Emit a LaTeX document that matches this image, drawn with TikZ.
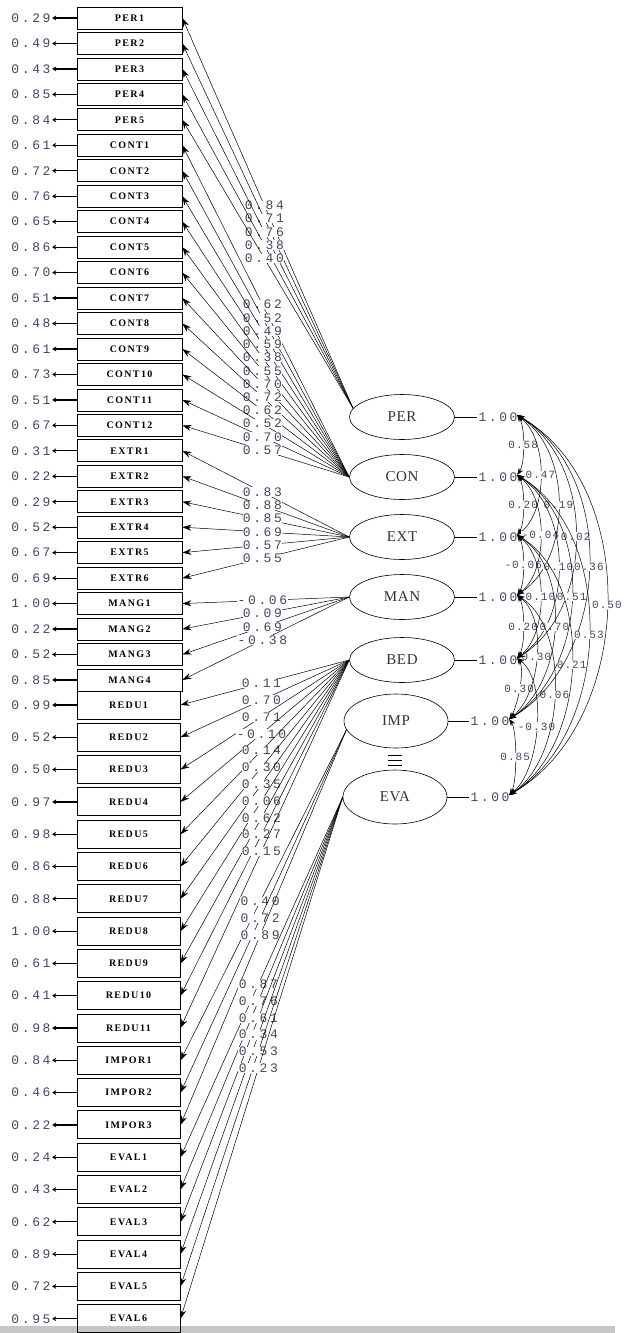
\documentclass[tikz,border=0pt]{standalone}
\usepackage{fontspec}
\usetikzlibrary{shapes.geometric,arrows.meta,calc}
\newfontfamily\numff[LetterSpace=20]{Liberation Mono}
\newfontfamily\corff[LetterSpace=10]{Liberation Mono}
\newfontfamily\boxff[LetterSpace=14]{Liberation Serif}
\newfontfamily\latff[LetterSpace=4]{Liberation Serif}
\newcommand\myNum{\numff\fontsize{13}{13}\selectfont}
\newcommand\myCor{\corff\fontsize{11}{11}\selectfont}
\newcommand\myBox{\boxff\bfseries\fontsize{10}{10}\selectfont}
\newcommand\myLat{\latff\fontsize{15}{15}\selectfont}
\definecolor{numc}{RGB}{75,65,100}
\begin{document}
\begin{tikzpicture}[x=1pt,y=-1pt,
  obs/.style={draw, line width=0.7pt, minimum width=105pt, minimum height=22pt, inner sep=0pt, font=\myBox},
  obsb/.style={draw, line width=1pt, minimum width=103pt, minimum height=28pt, inner sep=0pt, font=\myBox},
  lat/.style={draw, ellipse, line width=0.6pt, minimum width=105pt, minimum height=45pt, inner sep=0pt, font=\myLat, text=black!80},
  latb/.style={lat, minimum width=104pt, minimum height=54pt},
  num/.style={font=\myNum, text=numc, inner sep=1.5pt},
  lab/.style={font=\myNum, text=numc, fill=white, inner sep=0.4pt, pos=0.52},
  clab/.style={font=\myCor, text=numc, fill=white, inner sep=0.3pt, midway},
  load/.style={-{Stealth[length=9pt,width=6pt]}, line width=0.5pt},
  err/.style={-{Stealth[length=4pt,width=5pt]}, line width=1.2pt},
  cor/.style={{Stealth[length=7pt,width=5pt]}-{Stealth[length=7pt,width=5pt]}, line width=0.5pt}]
\useasboundingbox (0,0) rectangle (630,1333);
\fill[gray!45] (0,1326) rectangle (615,1333);

% observed variables, upper block
\foreach \t/\e [count=\k from 0] in {PER1/0.29,PER2/0.49,PER3/0.43,PER4/0.85,PER5/0.84,
  CONT1/0.61,CONT2/0.72,CONT3/0.76,CONT4/0.65,CONT5/0.86,CONT6/0.70,CONT7/0.51,CONT8/0.48,
  CONT9/0.61,CONT10/0.73,CONT11/0.51,CONT12/0.67,EXTR1/0.31,EXTR2/0.22,EXTR3/0.29,
  EXTR4/0.52,EXTR5/0.67,EXTR6/0.69,MANG1/1.00,MANG2/0.22,MANG3/0.52,MANG4/0.85}{
  \node[obs] (\t) at (129.5,{18+25.46*\k}) {\t};
  \node[num] (e\t) at (31,{18+25.46*\k}) {\e};
  \draw[err] (\t.west) -- (e\t.east);
}
% observed variables, lower block
\foreach \t/\e [count=\k from 0] in {REDU1/0.99,REDU2/0.52,REDU3/0.50,REDU4/0.97,REDU5/0.98,
  REDU6/0.86,REDU7/0.88,REDU8/1.00,REDU9/0.61,REDU10/0.41,REDU11/0.98,IMPOR1/0.84,
  IMPOR2/0.46,IMPOR3/0.22,EVAL1/0.24,EVAL2/0.43,EVAL3/0.62,EVAL4/0.89,EVAL5/0.72,EVAL6/0.95}{
  \node[obsb] (\t) at (128.5,{705+32.3*\k}) {\t};
  \node[num] (e\t) at (31,{705+32.3*\k}) {\e};
  \draw[err] (\t.west) -- (e\t.east);
}

% latent variables
\node[lat] (PER) at (402,417) {PER};
\node[lat] (CON) at (402,477) {CON};
\node[lat] (EXT) at (402,537) {EXT};
\node[lat] (MAN) at (402,597) {MAN};
\node[lat] (BED) at (402,660) {BED};
\node[latb] (IMP) at (396,721) {IMP};
\node[latb] (EVA) at (395,797) {EVA};
\foreach \y in {755,760,765} \draw[line width=0.6pt] (388,\y) -- (402,\y);

% variances
\foreach \l/\x in {PER/498,CON/498,EXT/498,MAN/498,BED/498,IMP/490,EVA/490}{
  \node[num] (v\l) at (\x,0 |- \l) {1.00};
  \draw[line width=0.6pt] (\l.east) -- (v\l.west);
  \coordinate (a\l) at ($(v\l.east)+(-2,-2)$);
}

% loadings
\foreach \t/\l in {PER1/0.84,PER2/0.71,PER3/0.76,PER4/0.38,PER5/0.40}
  \draw[load] (PER.170) -- node[lab]{\l} (\t.east);
\foreach \t/\l in {CONT1/0.62,CONT2/0.52,CONT3/0.49,CONT4/0.59,CONT5/0.38,CONT6/0.55,
  CONT7/0.70,CONT8/0.72,CONT9/0.62,CONT10/0.52,CONT11/0.70,CONT12/0.57}
  \draw[load] (CON.west) -- node[lab]{\l} (\t.east);
\foreach \t/\l in {EXTR1/0.83,EXTR2/0.88,EXTR3/0.85,EXTR4/0.69,EXTR5/0.57,EXTR6/0.55}
  \draw[load] (EXT.west) -- node[lab]{\l} (\t.east);
\foreach \t/\l in {MANG1/-0.06,MANG2/0.09,MANG3/0.69,MANG4/-0.38}
  \draw[load] (MAN.west) -- node[lab]{\l} (\t.east);
\foreach \t/\l in {REDU1/0.11,REDU2/0.70,REDU3/0.71,REDU4/-0.10,REDU5/0.14,REDU6/0.30,
  REDU7/0.35,REDU8/0.06,REDU9/0.62,REDU10/0.27,REDU11/0.15}
  \draw[load] (BED.west) -- node[lab]{\l} (\t.east);
\foreach \t/\l in {IMPOR1/0.40,IMPOR2/0.72,IMPOR3/0.89}
  \draw[load] (IMP.190) -- node[lab]{\l} (\t.east);
\foreach \t/\l in {EVAL1/0.87,EVAL2/0.76,EVAL3/0.61,EVAL4/0.34,EVAL5/0.53,EVAL6/0.23}
  \draw[load] (EVA.west) -- node[lab]{\l} (\t.east);

% correlations among latent variables
\foreach \i/\j/\c/\h/\v in {
  PER/CON/8/12/0.58, CON/EXT/8/12/0.20, EXT/MAN/8/12/-0.06, MAN/BED/8/12/0.20,
  BED/IMP/8/12/0.30, IMP/EVA/8/12/0.85,
  PER/EXT/31/24/0.47, CON/MAN/31/24/-0.04, EXT/BED/31/24/0.10, MAN/IMP/31/24/0.30,
  BED/EVA/31/24/-0.30,
  PER/MAN/55/36/0.19, CON/BED/55/36/0.10, EXT/IMP/55/36/0.70, MAN/EVA/55/36/0.06,
  PER/BED/78/48/0.02, CON/IMP/78/48/0.51, EXT/EVA/78/48/0.21,
  PER/IMP/101/60/0.36, CON/EVA/101/60/0.53,
  PER/EVA/125/72/0.50}
  \draw[cor] (a\i) .. controls +(\c,\h) and +(\c,-\h) .. node[clab]{\v} (a\j);
\end{tikzpicture}
\end{document}
